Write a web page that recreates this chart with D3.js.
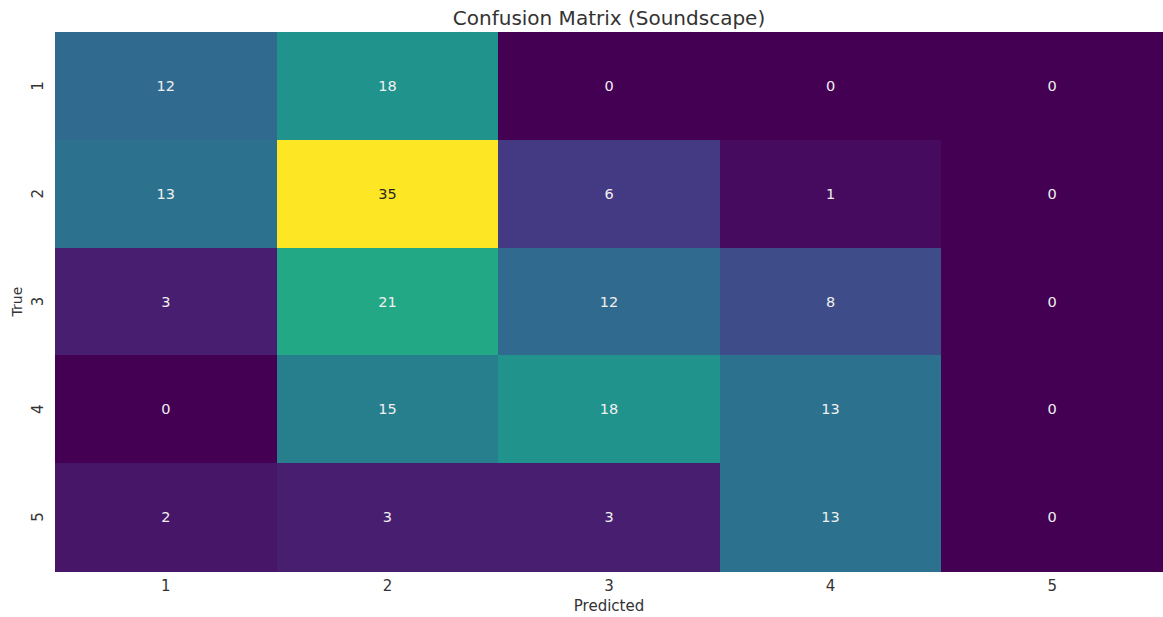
<!DOCTYPE html>
<html>
<head>
<meta charset="utf-8">
<script src="https://cdn.jsdelivr.net/npm/d3@7"></script>
<style>
  body { margin: 0; background: #fff; }
  text { font-family: "DejaVu Sans", sans-serif; }
</style>
</head>
<body>
<div id="chart"></div>
<script>
const predictedLabels = ["1", "2", "3", "4", "5"];
const trueLabels = ["1", "2", "3", "4", "5"];
// rows = true class, columns = predicted class
const row1 = [12, 18, 0, 0, 0];
const row2 = [13, 35, 6, 1, 0];
const row3 = [3, 21, 12, 8, 0];
const row4 = [0, 15, 18, 13, 0];
const row5 = [2, 3, 3, 13, 0];
const matrix = [row1, row2, row3, row4, row5];

const width = 1163, height = 617;
const marginTop = 32, marginRight = 0, marginBottom = 46, marginLeft = 55;

const cells = [];
matrix.forEach((row, i) => row.forEach((v, j) => cells.push({ t: trueLabels[i], p: predictedLabels[j], v })));

const x = d3.scaleBand().domain(predictedLabels).range([marginLeft, width - marginRight]);
const y = d3.scaleBand().domain(trueLabels).range([marginTop, height - marginBottom]);
const color = d3.scaleSequential(d3.interpolateViridis).domain([0, d3.max(cells, d => d.v)]);

const svg = d3.select("#chart").append("svg")
  .attr("width", width)
  .attr("height", height)
  .attr("viewBox", [0, 0, width, height]);

// heatmap cells
svg.append("g")
  .attr("shape-rendering", "crispEdges")
  .selectAll("rect")
  .data(cells)
  .join("rect")
  .attr("x", d => x(d.p))
  .attr("y", d => y(d.t))
  .attr("width", x.bandwidth() + 0.5)
  .attr("height", y.bandwidth() + 0.5)
  .attr("fill", d => color(d.v));

// annotations
svg.append("g")
  .attr("font-size", 14.5)
  .attr("text-anchor", "middle")
  .selectAll("text")
  .data(cells)
  .join("text")
  .attr("x", d => x(d.p) + x.bandwidth() / 2)
  .attr("y", d => y(d.t) + y.bandwidth() / 2)
  .attr("dy", "0.35em")
  .attr("fill", d => d3.hsl(color(d.v)).l > 0.5 ? "#262626" : "#f0f0f0")
  .text(d => d.v);

// axes
svg.append("g")
  .attr("transform", `translate(0,${height - marginBottom})`)
  .call(d3.axisBottom(x).tickSize(0).tickPadding(9))
  .call(g => g.select(".domain").remove())
  .call(g => g.selectAll("text").attr("font-size", 15).attr("fill", "#333"));

svg.append("g")
  .attr("transform", `translate(${marginLeft},0)`)
  .call(d3.axisLeft(y).tickSize(0).tickPadding(0))
  .call(g => g.select(".domain").remove())
  .call(g => g.selectAll("text")
    .attr("font-size", 15)
    .attr("fill", "#333")
    .attr("x", 0)
    .attr("dy", 0)
    .attr("text-anchor", "middle")
    .attr("transform", "translate(-12,0) rotate(-90)"));

svg.append("text")
  .attr("x", (marginLeft + width - marginRight) / 2)
  .attr("y", 611)
  .attr("text-anchor", "middle")
  .attr("font-size", 15)
  .attr("fill", "#333")
  .text("Predicted");

svg.append("text")
  .attr("transform", `translate(22,${(marginTop + height - marginBottom) / 2}) rotate(-90)`)
  .attr("text-anchor", "middle")
  .attr("font-size", 14)
  .attr("fill", "#333")
  .text("True");

svg.append("text")
  .attr("x", (marginLeft + width - marginRight) / 2)
  .attr("y", 25)
  .attr("text-anchor", "middle")
  .attr("font-size", 20)
  .attr("fill", "#333")
  .text("Confusion Matrix (Soundscape)");
</script>
</body>
</html>
